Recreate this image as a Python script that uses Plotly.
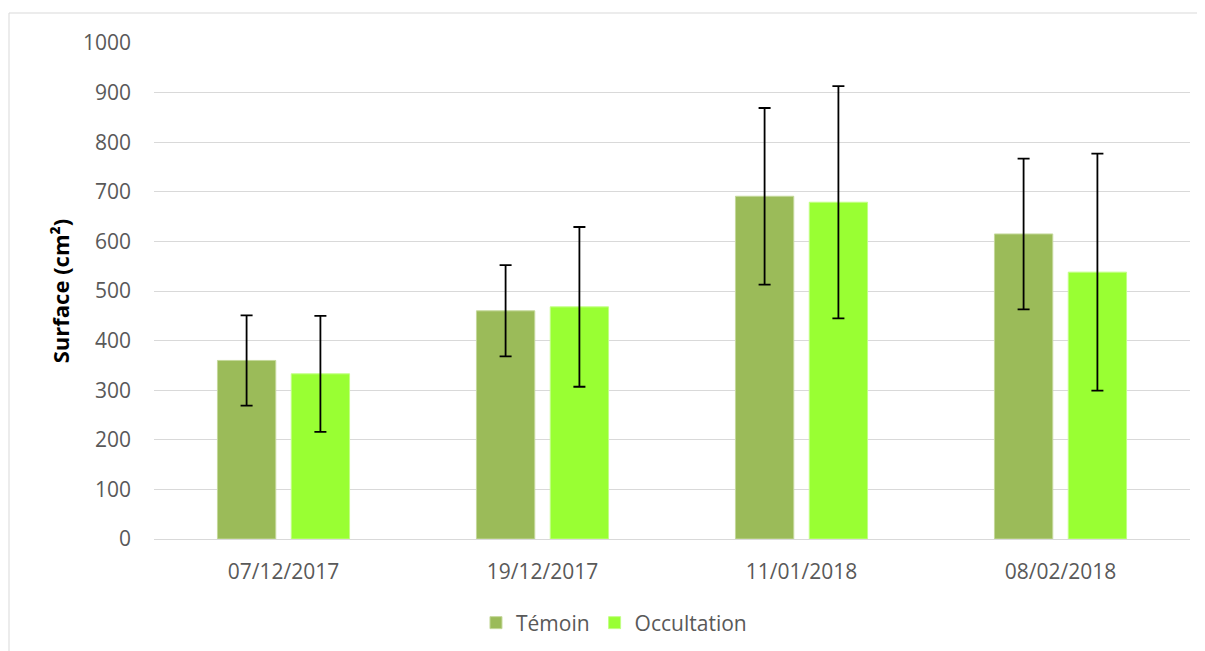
import plotly.graph_objects as go

dates = ["07/12/2017", "19/12/2017", "11/01/2018", "08/02/2018"]
temoin = [360, 460, 691, 615]
temoin_err = [91, 92, 178, 152]
occultation = [333, 468, 679, 538]
occultation_err = [117, 161, 234, 239]
y_ticks = list(range(0, 1001, 100))

FONT = "Open Sans"
OFF = 8  # page body margin in the browser
W, H = 1205 - OFF, 651 - OFF

fig = go.Figure()
fig.add_trace(go.Bar(
    name="Témoin", x=dates, y=temoin,
    marker=dict(color="#9BBB59", line=dict(color="#C4D89A", width=1)),
    error_y=dict(type="data", array=temoin_err, color="black", thickness=1.8, width=6),
))
fig.add_trace(go.Bar(
    name="Occultation", x=dates, y=occultation,
    marker=dict(color="#99FF33", line=dict(color="#C2FF85", width=1)),
    error_y=dict(type="data", array=occultation_err, color="black", thickness=1.8, width=6),
))

fig.update_layout(
    width=W, height=H,
    margin=dict(l=154 - OFF, r=15, t=43 - OFF, b=112, autoexpand=False),
    paper_bgcolor="white", plot_bgcolor="white",
    barmode="group", bargap=0.43, bargroupgap=0.21,
    font=dict(family=FONT, size=21, color="#595959"),
    showlegend=True,
    legend=dict(orientation="h", x=0.444, y=(H - (623 - OFF)) / H, yref="container",
                xanchor="center", yanchor="middle",
                font=dict(family=FONT, size=21, color="#595959"), itemwidth=30,
                traceorder="normal"),
    xaxis=dict(showgrid=False, showline=False, ticks="", tickfont=dict(size=21, color="#595959"),
               ticklabelstandoff=18),
    yaxis=dict(range=[0, 1000], tickvals=y_ticks, showgrid=True, gridcolor="#D9D9D9", gridwidth=1,
               zeroline=True, zerolinecolor="#D9D9D9", zerolinewidth=1,
               tickfont=dict(size=21, color="#595959"), ticklabelstandoff=22,
               title=dict(text="<b>Surface (cm²)</b>", font=dict(family=FONT, size=22, color="black"),
                          standoff=7)),
)

fig.add_shape(type="rect", xref="paper", yref="paper",
              x0=(9 - 154) / 1036, x1=(1240 - 154) / 1036,
              y0=(539 - 700) / 496, y1=(539 - 13) / 496,
              line=dict(color="#D9D9D9", width=1), fillcolor="rgba(0,0,0,0)", layer="below")

fig.write_html("out.html")
